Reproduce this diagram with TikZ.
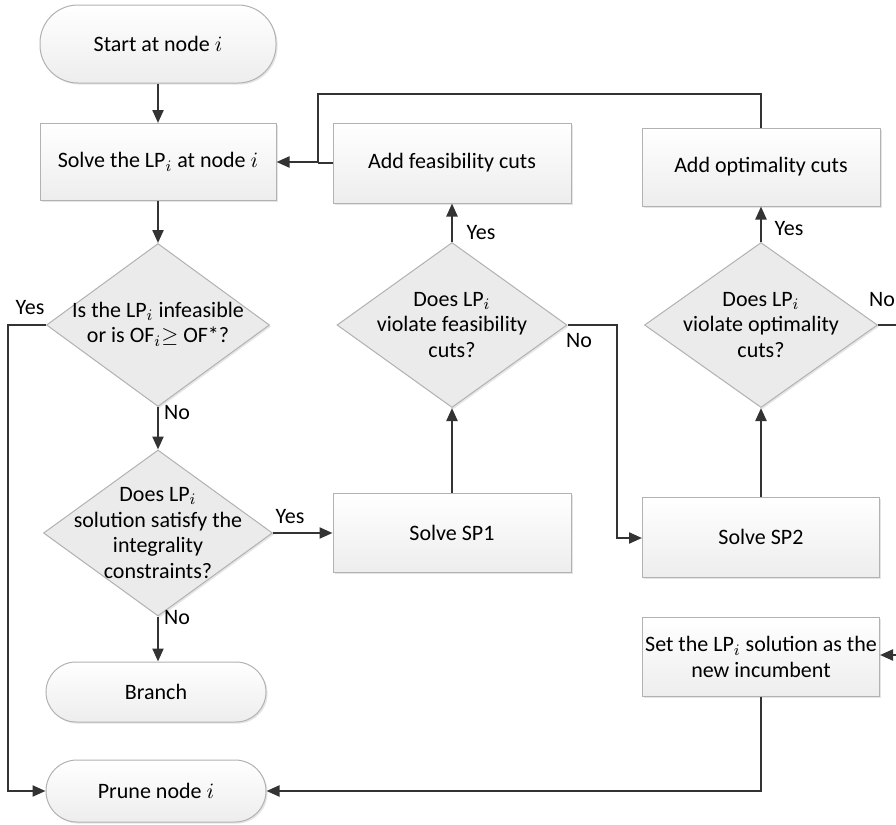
\documentclass[tikz,border=0pt]{standalone}
\usepackage{fontspec}
\setmainfont{Carlito}
\usetikzlibrary{shapes.geometric,arrows.meta,shadows}
\begin{document}
\begin{tikzpicture}[x=0.5pt,y=-0.5pt,
  font=\fontsize{11}{12.8}\selectfont,
  sh/.style={drop shadow={shadow xshift=0.8pt,shadow yshift=-0.8pt,fill=gray!45,opacity=0.45}},
  procbox/.style={draw=gray!60,line width=0.5pt,top color=white,bottom color=gray!14,sh,
    align=center,inner sep=1pt},
  pill/.style={procbox,rounded corners=#1},
  dia/.style={diamond,draw=gray!60,line width=0.5pt,fill=gray!16,inner sep=0pt,sh},
  conn/.style={draw=black!80,line width=1.1pt},
  arr/.style={conn,-{Triangle[length=6.5pt,width=5.5pt]}},
  lbl/.style={inner sep=1pt}]
\useasboundingbox (0,0) rectangle (896,825);

% nodes
\node[pill=19pt,minimum width=118pt,minimum height=39pt] (start) at (158,44) {Start at node $i$};
\node[procbox,minimum width=118pt,minimum height=38.5pt] (solve) at (158,162) {Solve the LP$_i$ at node $i$};
\node[dia,minimum width=111.5pt,minimum height=81.5pt] (d1) at (158,325) {};
\node[align=center] (d1t) at (158,324) {Is the LP$_i$ infeasible\\or is OF$_i$$\geq$ OF*?};
\node[dia,minimum width=114.5pt,minimum height=83pt] (d2) at (158,533) {};
\node[align=center] (d2t) at (158,533) {Does LP$_i$\\solution satisfy the\\integrality\\constraints?};
\node[pill=15pt,minimum width=110pt,minimum height=30pt] (branch) at (156,692) {Branch};
\node[pill=15.5pt,minimum width=110pt,minimum height=31pt] (prune) at (156,791) {Prune node $i$};

\node[procbox,minimum width=119pt,minimum height=40pt] (feas) at (452,163) {Add feasibility cuts};
\node[dia,minimum width=115pt,minimum height=82.5pt] (fd) at (452,325) {};
\node[align=center] (fdt) at (452,325) {Does LP$_i$\\violate feasibility\\cuts?};
\node[procbox,minimum width=119pt,minimum height=39.5pt] (sp1) at (452,533) {Solve SP1};

\node[procbox,minimum width=119pt,minimum height=39pt] (opt) at (761,167) {Add optimality cuts};
\node[dia,minimum width=116.5pt,minimum height=82.5pt] (od) at (761,325) {};
\node[align=center] (odt) at (761,325) {Does LP$_i$\\violate optimality\\cuts?};
\node[procbox,minimum width=118.5pt,minimum height=40pt] (sp2) at (761,537) {Solve SP2};
\node[procbox,minimum width=118.5pt,minimum height=39.5pt] (setb) at (761,657) {Set the LP$_i$ solution as the\\new incumbent};

\coordinate (odout) at (896,325);
\coordinate (setin) at (896,655);

% connectors
\draw[arr] (start) -- (solve);
\draw[arr] (solve) -- (d1.north);
\draw[arr] (d1.west) -- (8,325) -- (8,791) -- (prune.west);
\node[lbl] (y1) at (30,308) {Yes};
\draw[arr] (d1.south) -- (d2.north);
\node[lbl] (n1) at (177,413) {No};
\draw[arr] (d2.east) -- (sp1.west);
\node[lbl] (y2) at (290,517) {Yes};
\draw[arr] (d2.south) -- (d2.south |- branch.north);
\node[lbl] (n2) at (177,618) {No};

\draw[arr] (sp1.north) -- (fd.south);
\draw[arr] (fd.north) -- (feas.south);
\node[lbl] (y3) at (481,233) {Yes};
\draw[arr] (fd.east) -- (617,325) -- (617,538) -- (sp2.west |- 617,538);
\node[lbl] (n3) at (579,341) {No};

\draw[arr] (sp2.north) -- (od.south);
\draw[arr] (od.north) -- (opt.south);
\node[lbl] (y4) at (789,229) {Yes};
\draw[conn] (od.east) -- (odout);
\node[lbl] (n4) at (882,300) {No};
\draw[arr] (setin) -- (setb.east |- setin);

\draw[arr] (setb.south) -- (setb.south |- prune.east) -- (prune.east);
\draw[arr] (opt.north) -- (opt.north |- 0,94) -- (318,94) -- (318,162) -- (solve.east);
\draw[conn] (feas.west) -- (318,163);
\end{tikzpicture}
\end{document}
